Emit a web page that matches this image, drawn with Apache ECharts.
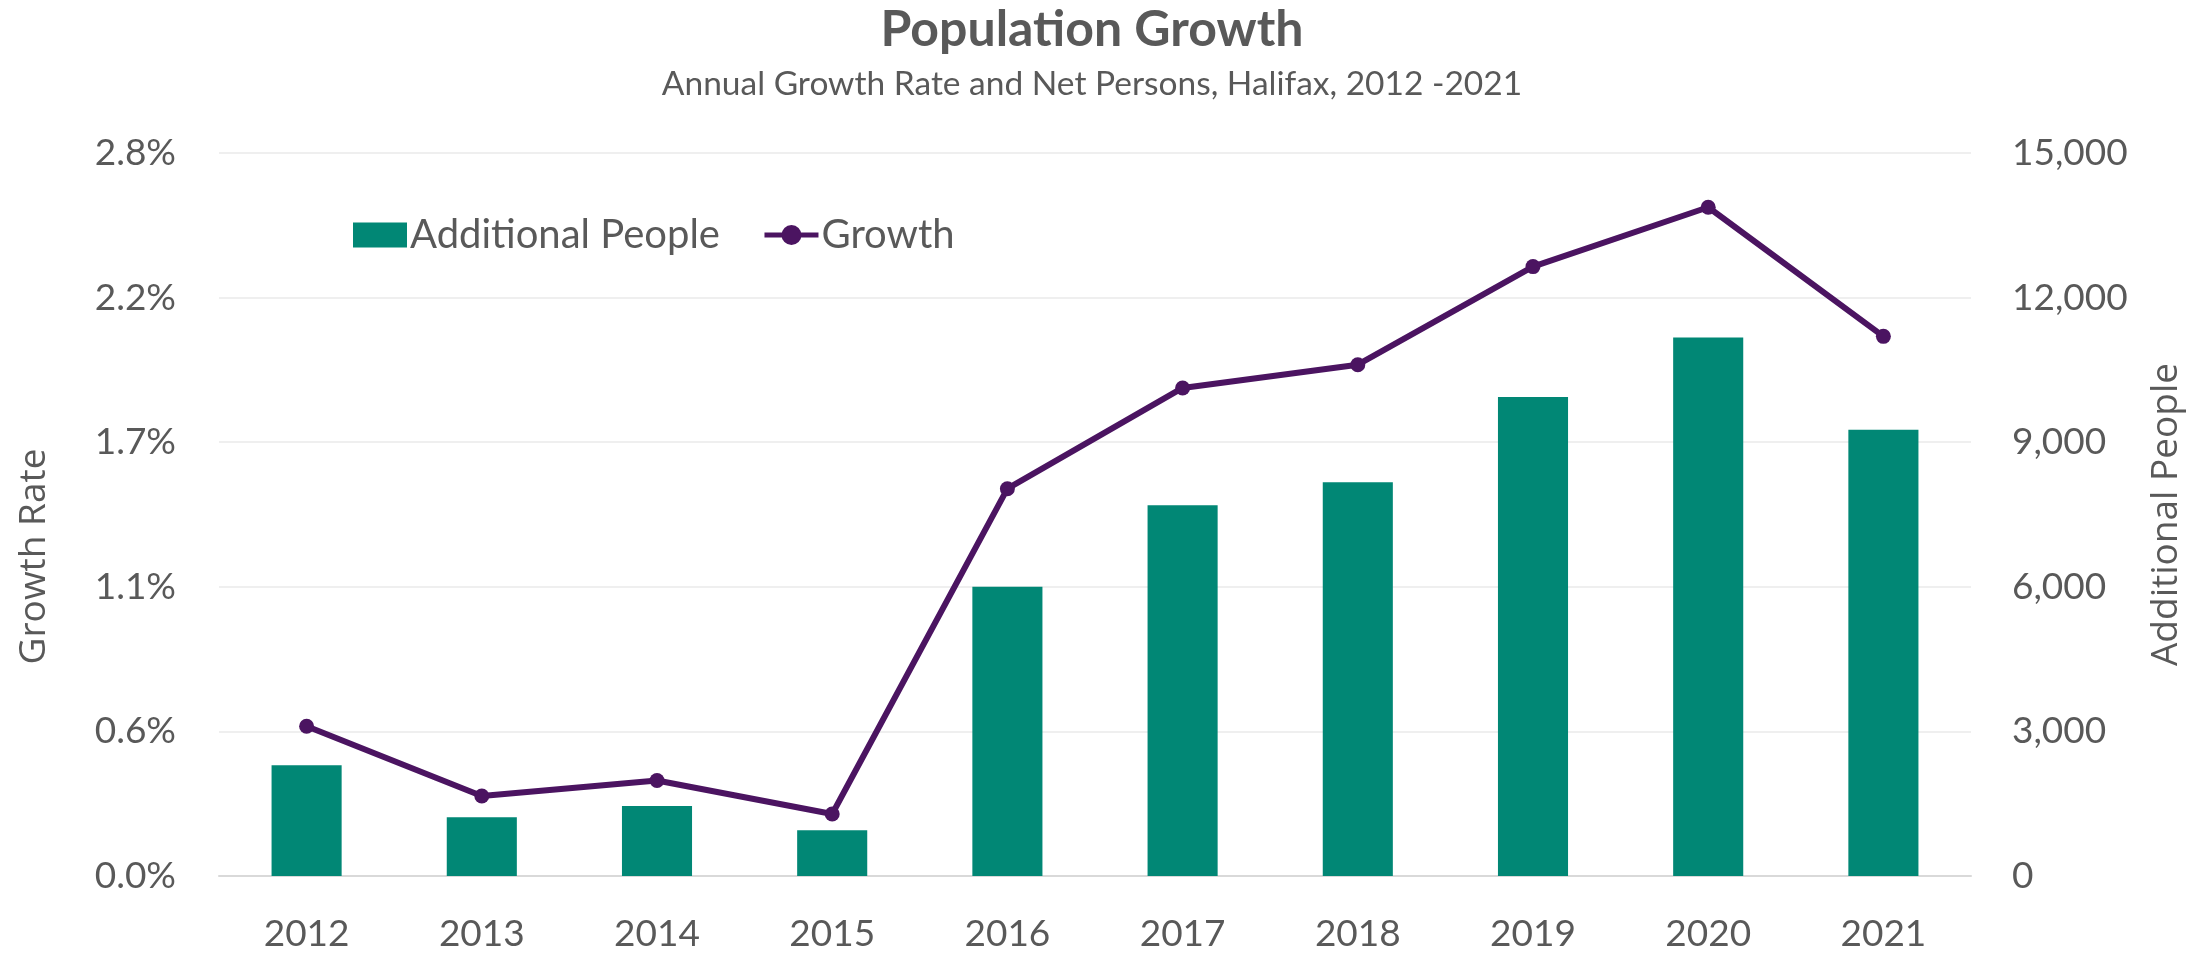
<!DOCTYPE html>
<html>
<head>
<meta charset="utf-8">
<script src="https://cdn.jsdelivr.net/npm/echarts@6/dist/echarts.min.js"></script>
<style>
html,body{margin:0;padding:0;background:#fff;}
#chart{width:2212px;height:953px;}
</style>
</head>
<body>
<div id="chart"></div>
<script>
const years = ['2012','2013','2014','2015','2016','2017','2018','2019','2020','2021'];
const additionalPeople = [2300, 1220, 1450, 950, 6000, 7690, 8170, 9940, 11170, 9260];
const growthRate = [0.58, 0.31, 0.37, 0.24, 1.50, 1.89, 1.98, 2.36, 2.59, 2.09];
const rateTicks = { min: 0, max: 2.8, interval: 0.56 };
const peopleTicks = { min: 0, max: 15000, interval: 3000 };

const txt = '#595959';
const chart = echarts.init(document.getElementById('chart'));
chart.setOption({
  backgroundColor: '#ffffff',
  animation: false,
  title: {
    text: 'Population Growth',
    subtext: 'Annual Growth Rate and Net Persons, Halifax, 2012 -2021',
    left: 1087, top: 0, textAlign: 'center', itemGap: 12,
    textStyle: { fontFamily: 'Lato', fontWeight: 'bold', fontSize: 50, color: txt },
    subtextStyle: { fontFamily: 'Lato', fontSize: 33.5, color: txt }
  },
  legend: {
    left: 348, top: 210, itemWidth: 54, itemHeight: 25, itemGap: 42,
    textStyle: { fontFamily: 'Lato', fontSize: 40, color: txt, padding: [0,0,0,-2] },
    lineStyle: { width: 5 },
    data: [
      { name: 'Additional People', icon: 'rect' },
      { name: 'Growth' }
    ]
  },
  grid: { left: 219, right: 241, top: 153, bottom: 76, containLabel: false },
  xAxis: {
    type: 'category', data: years,
    axisLine: { lineStyle: { color: '#D9D9D9', width: 2 } },
    axisTick: { show: false },
    axisLabel: { fontFamily: 'Lato', fontSize: 37, color: txt, margin: 40 }
  },
  yAxis: [
    {
      type: 'value', position: 'left',
      min: rateTicks.min, max: rateTicks.max, interval: rateTicks.interval,
      name: 'Growth Rate', nameLocation: 'middle', nameRotate: 90, nameGap: 166,
      nameTextStyle: { fontFamily: 'Open Sans', fontSize: 37, color: txt, padding: [0, 84, 0, 0] },
      axisLine: { show: false }, axisTick: { show: false },
      splitLine: { lineStyle: { color: '#EFEFEF', width: 2 } },
      axisLabel: { fontFamily: 'Lato', fontSize: 37, color: txt, margin: 43,
        formatter: v => v.toFixed(1) + '%' }
    },
    {
      type: 'value', position: 'right',
      min: peopleTicks.min, max: peopleTicks.max, interval: peopleTicks.interval,
      name: 'Additional People', nameLocation: 'middle', nameRotate: 90, nameGap: 177,
      nameTextStyle: { fontFamily: 'Open Sans', fontSize: 37, color: txt },
      axisLine: { show: false }, axisTick: { show: false },
      splitLine: { show: false },
      axisLabel: { fontFamily: 'Lato', fontSize: 37, color: txt, margin: 41,
        formatter: v => v.toLocaleString('en-US') }
    }
  ],
  series: [
    {
      name: 'Additional People', type: 'bar', yAxisIndex: 1, data: additionalPeople,
      barWidth: '40%',
      itemStyle: { color: '#018775' }
    },
    {
      name: 'Growth', type: 'line', yAxisIndex: 0, data: growthRate,
      symbol: 'circle', symbolSize: 15,
      lineStyle: { color: '#4B1461', width: 6 },
      itemStyle: { color: '#4B1461' }
    }
  ]
});
</script>
</body>
</html>
